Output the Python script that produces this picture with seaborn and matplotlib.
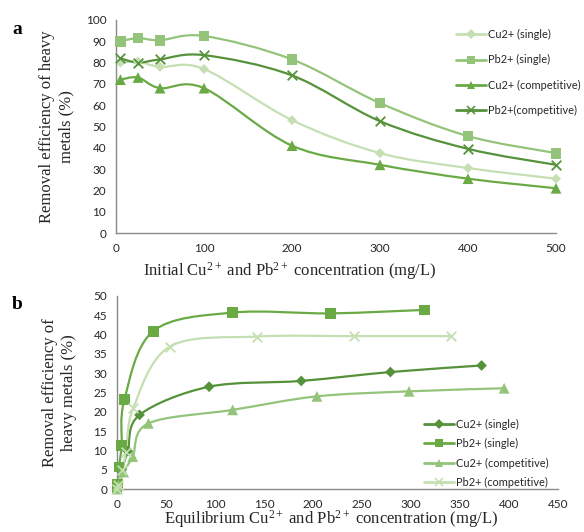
import numpy as np
import pandas as pd
import seaborn as sns
import matplotlib
matplotlib.use("Agg")
import matplotlib.pyplot as plt
from matplotlib.path import Path
from matplotlib.patches import PathPatch
from matplotlib.lines import Line2D

# ---------------- data ----------------
# Panel a: removal efficiency vs initial concentration
a_conc = [5, 25, 50, 100, 200, 300, 400, 500]
a_cu_single = [80, 80.5, 78, 77, 53, 37.5, 30.5, 25.5]
a_pb_single = [90, 91.5, 90.5, 92.5, 81.5, 61, 45.5, 37.5]
a_cu_comp = [72, 73, 68, 68, 41, 32, 25.5, 21]
a_pb_comp = [82, 80, 81.5, 83.5, 74, 52.5, 39.5, 32]

# Panel b: removal vs equilibrium concentration
b_cu_single_x = [0, 1, 4.9, 11, 23, 94, 188, 279, 372]
b_cu_single_y = [0, 1.0, 5.0, 9.8, 19.2, 26.5, 28, 30.3, 32]
b_pb_single_x = [0, 0.5, 2.1, 4.7, 7.5, 37, 118, 218, 314]
b_pb_single_y = [0, 1.1, 5.7, 11.3, 23.1, 40.9, 45.7, 45.5, 46.4]
b_cu_comp_x = [0, 1.4, 6.8, 16, 32, 118, 204, 298, 395]
b_cu_comp_y = [0, 0.9, 4.4, 8.4, 17, 20.5, 24, 25.3, 26.1]
b_pb_comp_x = [0, 0.9, 5, 9.3, 16.5, 54, 143, 242, 341]
b_pb_comp_y = [0, 1.0, 5.0, 9.6, 20.9, 36.9, 39.5, 39.6, 39.6]

labels_a = ["Cu2+ (single)", "Pb2+ (single)", "Cu2+ (competitive)", "Pb2+(competitive)"]
labels_b = ["Cu2+ (single)", "Pb2+ (single)", "Cu2+ (competitive)", "Pb2+ (competitive)"]

# ---------------- style ----------------
sns.set_style("white")
plt.rcParams["font.family"] = ["Lato", "DejaVu Sans"]
plt.rcParams["mathtext.fontset"] = "custom"
plt.rcParams["mathtext.rm"] = "Liberation Serif"
plt.rcParams["mathtext.it"] = "Liberation Serif"
plt.rcParams["mathtext.default"] = "rm"

LIGHT = "#c5dfb2"
MEDL = "#93c47a"
MED = "#6aaa45"
DARK = "#55923a"

SERIF = "Liberation Serif"
GRAY = "#8a8a8a"
TXT = "#262626"


def smooth_patch(ax, xs, ys, color, lw=1.6):
    """Excel-style smoothed line as a cubic Bezier path through the data."""
    P = np.column_stack([xs, ys]).astype(float)
    n = len(P)
    verts = [P[0]]
    codes = [Path.MOVETO]
    for i in range(n - 1):
        p0 = P[i - 1] if i > 0 else P[i]
        p1 = P[i]
        p2 = P[i + 1]
        p3 = P[i + 2] if i + 2 < n else P[i + 1]
        c1 = p1 + (p2 - p0) / 6.0
        c2 = p2 - (p3 - p1) / 6.0
        verts += [c1, c2, p2]
        codes += [Path.CURVE4] * 3
    patch = PathPatch(Path(verts, codes), fill=False, edgecolor=color, lw=lw,
                      capstyle="round", joinstyle="round", zorder=2)
    ax.add_patch(patch)


def markers(ax, xs, ys, marker, color, size, mew=0.0):
    df = pd.DataFrame({"x": xs, "y": ys})
    sns.scatterplot(data=df, x="x", y="y", ax=ax, marker=marker, s=size,
                    color=color, edgecolor=color if mew else "none",
                    linewidth=mew, zorder=3, clip_on=False, legend=False)


def style_axes(ax, xticks, yticks):
    ax.set_xticks(xticks)
    ax.set_yticks(yticks)
    ax.set_xlim(xticks[0], xticks[-1])
    ax.set_ylim(yticks[0], yticks[-1])
    for s in ["top", "right"]:
        ax.spines[s].set_visible(False)
    for s in ["left", "bottom"]:
        ax.spines[s].set_color(GRAY)
        ax.spines[s].set_linewidth(1.0)
    ax.tick_params(axis="both", direction="out", length=3, width=1.0, color=GRAY,
                   labelsize=8.5, labelcolor=TXT, pad=4)
    ax.set_xlabel("")
    ax.set_ylabel("")


fig = plt.figure(figsize=(5.84, 5.32), dpi=100)

# ---------------- panel a ----------------
axa = fig.add_axes([116 / 584, 1 - 233 / 532, 440 / 584, 213 / 532])
series_a = [
    (a_cu_single, LIGHT, "D", 26, 0.0),
    (a_pb_single, MEDL, "s", 60, 0.0),
    (a_cu_comp, MED, "^", 60, 0.0),
    (a_pb_comp, DARK, "x", 48, 1.3),
]
for ys, c, m, s, mew in series_a:
    smooth_patch(axa, a_conc, ys, c)
for ys, c, m, s, mew in series_a:
    markers(axa, a_conc, ys, m, c, s, mew)
style_axes(axa, list(range(0, 501, 100)), list(range(0, 101, 10)))
axa.set_xlabel(r"Initial Cu$^{2+}$ and Pb$^{2+}$ concentration (mg/L)",
               fontfamily=SERIF, fontsize=12, color=TXT)
axa.xaxis.set_label_coords(0.395, -0.125)
axa.set_ylabel("Removal efficiency of heavy\nmetals (%)", fontfamily=SERIF,
               fontsize=12, color=TXT, linespacing=1.25)
axa.yaxis.set_label_coords(-0.095, 0.5)

handles_a = [Line2D([], [], color=c, lw=2, marker=m, markersize=(5 if m == "D" else 6),
                    markeredgewidth=(1.2 if m == "x" else 0), markeredgecolor=c)
             for ys, c, m, s, mew in series_a]
fig.legend(handles_a, labels_a, loc="upper left",
           bbox_to_anchor=(456 / 584, 1 - 29 / 532), bbox_transform=fig.transFigure,
           frameon=False, fontsize=7.9, handlelength=2.7, handletextpad=0.25,
           labelspacing=1.3, borderpad=0, borderaxespad=0, labelcolor=TXT)

fig.text(12 / 584, 1 - 34 / 532, "a", fontfamily=SERIF, fontweight="bold",
         fontsize=14, color="black")

# ---------------- panel b ----------------
axb = fig.add_axes([117 / 584, 1 - 489 / 532, 441 / 584, 193 / 532])
series_b = [
    (b_cu_single_x, b_cu_single_y, DARK, "D", 30, 0.0),
    (b_pb_single_x, b_pb_single_y, MED, "s", 60, 0.0),
    (b_cu_comp_x, b_cu_comp_y, MEDL, "^", 60, 0.0),
    (b_pb_comp_x, b_pb_comp_y, LIGHT, "x", 48, 1.3),
]
for xs, ys, c, m, s, mew in series_b:
    smooth_patch(axb, xs, ys, c)
for xs, ys, c, m, s, mew in series_b:
    markers(axb, xs, ys, m, c, s, mew)
style_axes(axb, list(range(0, 451, 50)), list(range(0, 51, 5)))
axb.set_xlabel(r"Equilibrium Cu$^{2+}$ and Pb$^{2+}$ concentration (mg/L)",
               fontfamily=SERIF, fontsize=12, color=TXT)
axb.xaxis.set_label_coords(0.485, -0.1)
axb.set_ylabel("Removal efficiency of\nheavy metals (%)", fontfamily=SERIF,
               fontsize=12, color=TXT, linespacing=1.25)
axb.yaxis.set_label_coords(-0.09, 0.5)

handles_b = [Line2D([], [], color=c, lw=2, marker=m, markersize=(5 if m == "D" else 6),
                    markeredgewidth=(1.2 if m == "x" else 0), markeredgecolor=c)
             for xs, ys, c, m, s, mew in series_b]
fig.legend(handles_b, labels_b, loc="upper left",
           bbox_to_anchor=(424 / 584, 1 - 419 / 532), bbox_transform=fig.transFigure,
           frameon=False, fontsize=7.9, handlelength=2.7, handletextpad=0.25,
           labelspacing=0.75, borderpad=0, borderaxespad=0, labelcolor=TXT)

fig.text(12 / 584, 1 - 309 / 532, "b", fontfamily=SERIF, fontweight="bold",
         fontsize=14, color="black")

fig.savefig("out.png", dpi=100, facecolor="white")
